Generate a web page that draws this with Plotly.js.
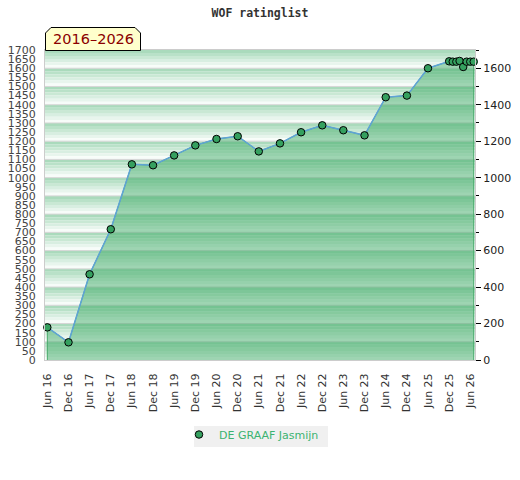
<!DOCTYPE html>
<html>
<head>
<meta charset="utf-8">
<script src="https://cdn.plot.ly/plotly-3.0.1.min.js"></script>
<style>html,body{margin:0;padding:0;background:#fff;}#chart{width:520px;height:480px;}</style>
</head>
<body>
<div id="chart"></div>
<script>
// ---- data ----
const dates = ['2016-06-01','2016-12-01','2017-06-01','2017-12-01','2018-06-01','2018-12-01',
  '2019-06-01','2019-12-01','2020-06-01','2020-12-01','2021-06-01','2021-12-01',
  '2022-06-01','2022-12-01','2023-06-01','2023-12-01','2024-06-01','2024-12-01',
  '2025-06-01','2025-12-01','2026-01-01','2026-02-01','2026-03-01','2026-04-01',
  '2026-05-01','2026-06-01','2026-07-01'];
const ratings = [179,97,470,717,1073,1068,1122,1177,1212,1227,1144,1188,1249,1287,1260,1232,
  1441,1450,1600,1638,1636,1636,1640,1607,1636,1636,1636];
const playerName = 'DE GRAAF Jasmijn';
const chartTitle = 'WOF ratinglist';
const periodLabel = '2016\u20132026';
const tickDates = ['2016-06-01','2016-12-01','2017-06-01','2017-12-01','2018-06-01','2018-12-01',
  '2019-06-01','2019-12-01','2020-06-01','2020-12-01','2021-06-01','2021-12-01',
  '2022-06-01','2022-12-01','2023-06-01','2023-12-01','2024-06-01','2024-12-01',
  '2025-06-01','2025-12-01','2026-06-01'];
const tickLabels = ['Jun 16','Dec 16','Jun 17','Dec 17','Jun 18','Dec 18','Jun 19','Dec 19',
  'Jun 20','Dec 20','Jun 21','Dec 21','Jun 22','Dec 22','Jun 23','Dec 23','Jun 24','Dec 24',
  'Jun 25','Dec 25','Jun 26'];

// ---- layout helpers ----
const M = {l:45, r:45, t:50, b:120};
const W = 520, H = 480;
const pw = W - M.l - M.r, ph = H - M.t - M.b;
const px = x => (x - M.l) / pw;
const py = y => (H - M.b - y) / ph;

const yMax = 1700;
const shapes = [];
function mix(a, b, t){ return 'rgb(' + a.map((v,i)=>Math.round(v + (b[i]-v)*t)).join(',') + ')'; }
const gTop = [170,218,188], gBot = [247,252,249];
const steps = 6;
for (let v0 = 0; v0 < yMax; v0 += 100) {
  const v1 = v0 + 100;
  for (let k = 0; k < steps; k++) {
    shapes.push({type:'rect', xref:'paper', yref:'y', layer:'below',
      x0:0, x1:1, y0: v1 - (k+1)*100/steps, y1: v1 - k*100/steps,
      fillcolor: mix(gTop, gBot, k/(steps-1)), line:{width:0}});
  }
  if (v0 > 0) {
    shapes.push({type:'line', xref:'paper', yref:'y', layer:'below',
      x0:0, x1:1, y0:v0, y1:v0, line:{color:'#d6d6d6', width:1}});
  }
}
// period tab
const tab = [[45.5,50.5],[45.5,33],[51,27.5],[135,27.5],[140.5,33],[140.5,50.5]];
shapes.push({type:'path', xref:'paper', yref:'paper', layer:'above',
  path: 'M' + tab.map(p => px(p[0]) + ',' + py(p[1])).join(' L') + ' Z',
  fillcolor:'#ffffcc', line:{color:'#000', width:1}});
// legend background
shapes.push({type:'rect', xref:'paper', yref:'paper', layer:'above',
  x0: px(194), x1: px(328), y0: py(447), y1: py(426),
  fillcolor:'#f0f0f0', line:{width:0}});

const fillTrace = {
  x: [dates[0]].concat(dates, [dates[dates.length-1]]),
  y: [0].concat(ratings, [0]),
  type:'scatter', mode:'lines', fill:'toself',
  fillcolor:'rgba(60,170,100,0.48)',
  line:{color:'rgb(70,170,105)', width:1},
  hoverinfo:'skip', showlegend:false
};
const lineTrace = {
  x: dates, y: ratings, type:'scatter', mode:'lines',
  line:{color:'#5fa3d6', width:1.5}, showlegend:false, hoverinfo:'skip'
};
const markTrace = {
  x: dates, y: ratings, type:'scatter', mode:'markers', name: playerName,
  yaxis:'y2', cliponaxis:false,
  marker:{size:7.5, color:'#35a05f', line:{color:'#000', width:1}}
};

const tickFont = {family:'DejaVu Sans', size:11, color:'#444'};
const layout = {
  width:W, height:H, margin:M,
  paper_bgcolor:'#fff', plot_bgcolor:'#fff',
  font:{family:'DejaVu Sans', size:11, color:'#333'},
  title:{text: chartTitle, x:0.5, xref:'paper', y: 1 - 13/H, yref:'container', yanchor:'middle',
    font:{family:'DejaVu Sans Mono', size:11.5, color:'#333', weight:'bold'}},
  xaxis:{type:'date', range:['2016-05-12','2026-07-12'], tickvals:tickDates, ticktext:tickLabels,
    tickangle:-90, ticks:'', ticklabelstandoff:8, showgrid:false, zeroline:false,
    showline:true, mirror:true, linecolor:'#cccccc', linewidth:1,
    tickfont:{family:'DejaVu Sans', size:11, color:'#333'}, fixedrange:true},
  yaxis:{range:[0,yMax], tick0:0, dtick:50, ticks:'', ticklabelstandoff:6, showgrid:false,
    zeroline:false, showline:true, mirror:true, linecolor:'#cccccc', linewidth:1,
    tickfont:tickFont, fixedrange:true},
  yaxis2:{range:[0,yMax], overlaying:'y', side:'right', tickvals:[0,200,400,600,800,1000,1200,1400,1600],
    ticks:'outside', ticklen:5, tickcolor:'#000', tickwidth:1, showgrid:false, zeroline:false,
    showline:false, minor:{dtick:100, tick0:0, ticks:'outside', ticklen:3, tickcolor:'#000', showgrid:false},
    tickfont:{family:'DejaVu Sans', size:11, color:'#222'}, fixedrange:true},
  showlegend:true,
  legend:{orientation:'h', x: px(179), xanchor:'left', y: py(420), yanchor:'top',
    bgcolor:'rgba(0,0,0,0)', font:{family:'DejaVu Sans', size:11, color:'#3cb371'}},
  shapes: shapes,
  annotations:[{text: periodLabel, xref:'paper', yref:'paper', x: px(93), y: py(39.5),
    xanchor:'center', yanchor:'middle', showarrow:false,
    font:{family:'DejaVu Sans', size:14.5, color:'#8b0000'}}]
};
Plotly.newPlot('chart', [fillTrace, lineTrace, markTrace], layout, {displayModeBar:false, staticPlot:true});
</script>
</body>
</html>
